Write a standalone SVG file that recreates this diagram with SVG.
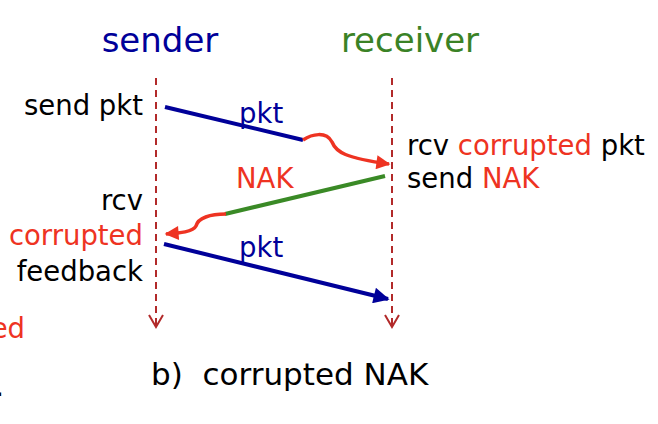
<svg xmlns="http://www.w3.org/2000/svg" width="658" height="424" viewBox="0 0 658 424">
<style>
text{font-family:"DejaVu Sans","Verdana",sans-serif;}
.title{font-size:34px;text-anchor:middle;}
.lbl{font-size:27.5px;fill:#000;}
.blue{fill:#000099;}
.green{fill:#3a8226;}
.red{fill:#ee3322;}
.life{stroke:#b22a2a;stroke-width:2;stroke-dasharray:7,5;fill:none;}
.lifehead{stroke:#b22a2a;stroke-width:2;fill:none;}
</style>
<defs>
<marker id="ab" viewBox="0 0 10 10" refX="9" refY="5" markerWidth="4.5" markerHeight="4" orient="auto" markerUnits="strokeWidth"><path d="M0,0 L10,5 L0,10 z" fill="#000099"/></marker>
<marker id="ar" viewBox="0 0 10 10" refX="9" refY="5" markerWidth="4.5" markerHeight="4" orient="auto" markerUnits="strokeWidth"><path d="M0,0 L10,5 L0,10 z" fill="#ee3322"/></marker>
</defs>
<g id="sender">
<text class="title blue" x="160" y="52">sender</text>
<path class="life" d="M156,78 V326"/>
<path class="lifehead" d="M149,315 L156,327 L163,315"/>
</g>
<g id="receiver">
<text class="title green" x="410" y="52">receiver</text>
<path class="life" d="M392,78 V326"/>
<path class="lifehead" d="M385,315 L392,327 L399,315"/>
</g>
<g id="sender-labels">
<text class="lbl" x="143" y="115" text-anchor="end">send pkt</text>
<text class="lbl" x="143" y="210" text-anchor="end">rcv</text>
<text class="lbl red" x="143" y="245" text-anchor="end">corrupted</text>
<text class="lbl" x="143" y="281" text-anchor="end">feedback</text>
</g>
<g id="receiver-labels">
<text class="lbl" x="407" y="155">rcv <tspan class="red">corrupted</tspan> pkt</text>
<text class="lbl" x="407" y="188">send <tspan class="red">NAK</tspan></text>
</g>
<g id="connectors">
<line x1="165" y1="107" x2="303" y2="140" stroke="#000099" stroke-width="4"/>
<path d="M303,140 C312,134 326,131 332,142 C336,152 345,158 389,164" fill="none" stroke="#ee3322" stroke-width="3.5" marker-end="url(#ar)"/>
<line x1="385" y1="176" x2="225" y2="214" stroke="#3a8a26" stroke-width="4"/>
<path d="M226,214 C210,214 198,218 196,226 C193,232 180,233 166,234" fill="none" stroke="#ee3322" stroke-width="3.5" marker-end="url(#ar)"/>
<line x1="164" y1="244" x2="388" y2="299" stroke="#000099" stroke-width="4" marker-end="url(#ab)"/>
</g>
<g id="connector-labels">
<text class="lbl blue" x="239" y="123">pkt</text>
<text class="lbl red" x="236" y="188">NAK</text>
<text class="lbl blue" x="239" y="257">pkt</text>
</g>
<g id="other">
<text class="lbl red" x="25" y="338" text-anchor="end">ed</text>
<text class="lbl" x="4" y="396" text-anchor="end">.</text>
<text class="lbl" x="151" y="385" style="font-size:31px" xml:space="preserve">b)  corrupted NAK</text>
</g>
</svg>
